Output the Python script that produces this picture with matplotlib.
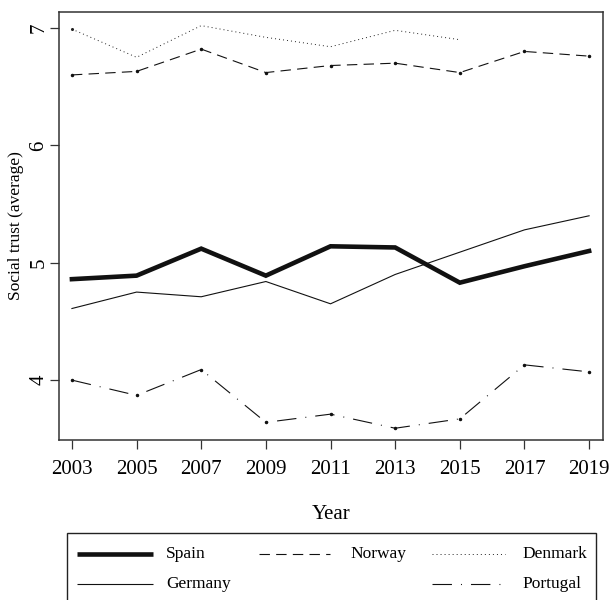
import matplotlib
matplotlib.use("Agg")
import matplotlib.pyplot as plt
from matplotlib.lines import Line2D
from matplotlib.patches import Rectangle

plt.rcParams['font.family'] = ['Liberation Serif', 'DejaVu Serif']
plt.rcParams['lines.scale_dashes'] = False

# Social trust averages
years = [2003, 2005, 2007, 2009, 2011, 2013, 2015, 2017, 2019]
spain = [4.86, 4.89, 5.12, 4.89, 5.14, 5.13, 4.83, 4.97, 5.10]
germany = [4.61, 4.75, 4.71, 4.84, 4.65, 4.90, 5.09, 5.28, 5.40]
norway = [6.60, 6.63, 6.82, 6.62, 6.68, 6.70, 6.62, 6.80, 6.76]
denmark_years = [2003, 2005, 2007, 2009, 2011, 2013, 2015]
denmark = [6.99, 6.75, 7.02, 6.92, 6.84, 6.98, 6.90]
portugal = [4.00, 3.87, 4.09, 3.64, 3.71, 3.59, 3.67, 4.13, 4.07]

# line styles, shared by plot and legend
sty = {
    'Spain': dict(color='#111111', lw=3.3, ls='-'),
    'Germany': dict(color='#111111', lw=0.8, ls='-'),
    'Norway': dict(color='#111111', lw=0.8, ls=(0, (7.5, 4.5))),
    'Denmark': dict(color='#222222', lw=0.7, ls=(0, (0.7, 2.2))),
    'Portugal': dict(color='#111111', lw=0.8, ls=(0, (14, 6.5, 0.7, 6.5))),
}

fig = plt.figure(figsize=(6.12, 6.0), dpi=100)
ax = fig.add_axes([0.0964, 0.2667, 0.8889, 0.7133])

ax.plot(years, germany, **sty['Germany'])
ax.plot(years, norway, marker='o', ms=1.5, **sty['Norway'])
ax.plot(denmark_years, denmark, marker='o', ms=1.2, markevery=[0], **sty['Denmark'])
ax.plot(years, portugal, marker='o', ms=1.5, **sty['Portugal'])
ax.plot(years, spain, solid_joinstyle='miter', **sty['Spain'])

ax.set_xlim(2002.6, 2019.43)
ax.set_ylim(3.49, 7.136)
ax.set_xticks(years)
ax.set_yticks([4, 5, 6, 7])
for s in ax.spines.values():
    s.set_linewidth(1.1)
    s.set_color('#333333')
ax.tick_params(axis='both', direction='out', length=6.5, width=0.9, color='#333333', labelsize=15)
ax.tick_params(axis='x', pad=8)
ax.tick_params(axis='y', pad=1)
for lab in ax.get_yticklabels():
    lab.set_rotation(90)
    lab.set_va('center')

ax.set_xlabel('Year', fontsize=15)
ax.xaxis.set_label_coords(0.5, -0.152)
ax.set_ylabel('Social trust (average)', fontsize=12.5)
ax.yaxis.set_label_coords(-0.064, 0.5)

# legend drawn by hand in figure pixels
W, H = 612.0, 600.0
fig.add_artist(Rectangle((67 / W, -0.02), (596 - 67) / W, 0.02 + 1 - 533 / H,
                         transform=fig.transFigure, fill=False, lw=1.0, ec='#222222'))
entries = [('Spain', 77, 153, 166, 554), ('Germany', 77, 153, 166, 584),
           ('Norway', 259, 330, 350, 554), ('Denmark', 432, 505, 522, 554),
           ('Portugal', 432, 505, 522, 584)]
for name, x0, x1, xt, yy in entries:
    y = 1 - yy / H
    fig.add_artist(Line2D([x0 / W, x1 / W], [y, y], transform=fig.transFigure,
                          solid_capstyle='butt', **sty[name]))
    fig.text(xt / W, y, name, fontsize=12.5, va='center', ha='left')

fig.savefig('out.png', dpi=100)
